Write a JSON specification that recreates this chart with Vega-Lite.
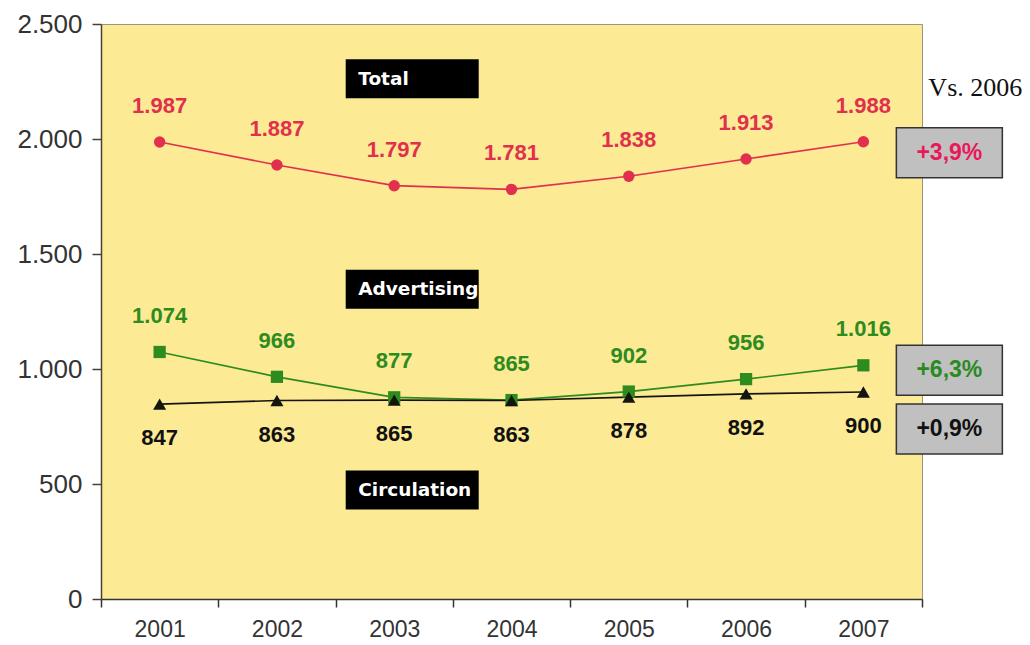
{
  "$schema": "https://vega.github.io/schema/vega-lite/v6.json",
  "width": 821,
  "height": 575,
  "autosize": "none",
  "padding": {"left": 101, "top": 24, "right": 108, "bottom": 46},
  "background": "white",
  "config": {
    "locale": {"number": {"decimal": ",", "thousands": ".", "grouping": [3], "currency": ["", " €"]}},
    "view": {"fill": "#FCEA94", "stroke": "#9C957A", "strokeWidth": 1},
    "font": "Liberation Sans"
  },
  "datasets": {
    "revenue": [
      {"year": "2001", "series": "Total", "value": 1987},
      {"year": "2002", "series": "Total", "value": 1887},
      {"year": "2003", "series": "Total", "value": 1797},
      {"year": "2004", "series": "Total", "value": 1781},
      {"year": "2005", "series": "Total", "value": 1838},
      {"year": "2006", "series": "Total", "value": 1913},
      {"year": "2007", "series": "Total", "value": 1988},
      {"year": "2001", "series": "Advertising", "value": 1074},
      {"year": "2002", "series": "Advertising", "value": 966},
      {"year": "2003", "series": "Advertising", "value": 877},
      {"year": "2004", "series": "Advertising", "value": 865},
      {"year": "2005", "series": "Advertising", "value": 902},
      {"year": "2006", "series": "Advertising", "value": 956},
      {"year": "2007", "series": "Advertising", "value": 1016},
      {"year": "2001", "series": "Circulation", "value": 847},
      {"year": "2002", "series": "Circulation", "value": 863},
      {"year": "2003", "series": "Circulation", "value": 865},
      {"year": "2004", "series": "Circulation", "value": 863},
      {"year": "2005", "series": "Circulation", "value": 878},
      {"year": "2006", "series": "Circulation", "value": 892},
      {"year": "2007", "series": "Circulation", "value": 900}
    ],
    "vs2006": [
      {"series": "Total", "change": "+3,9%"},
      {"series": "Advertising", "change": "+6,3%"},
      {"series": "Circulation", "change": "+0,9%"}
    ]
  },
  "encoding": {
    "x": {
      "field": "year",
      "type": "ordinal",
      "scale": {"type": "band", "domain": ["2001", "2002", "2003", "2004", "2005", "2006", "2007"], "paddingInner": 0, "paddingOuter": 0},
      "axis": {
        "title": null,
        "labelAngle": 0,
        "tickBand": "extent",
        "labelFontSize": 23,
        "labelColor": "#333333",
        "labelPadding": 11,
        "tickSize": 8,
        "tickColor": "#333333",
        "tickWidth": 1.5,
        "domainColor": "#333333",
        "domainWidth": 1.5
      }
    },
    "y": {
      "field": "value",
      "type": "quantitative",
      "scale": {"domain": [0, 2500], "nice": false},
      "axis": {
        "title": null,
        "grid": false,
        "values": [0, 500, 1000, 1500, 2000, 2500],
        "format": ",.0f",
        "labelFontSize": 26,
        "labelColor": "#333333",
        "labelPadding": 10,
        "tickSize": 9,
        "tickColor": "#4B4030",
        "tickWidth": 1.5,
        "domainColor": "#4B4030",
        "domainWidth": 1.5
      }
    }
  },
  "layer": [
    {
      "data": {"name": "revenue"},
      "mark": {"type": "line", "strokeWidth": 1.7},
      "encoding": {
        "color": {
          "field": "series",
          "type": "nominal",
          "scale": {"domain": ["Total", "Advertising", "Circulation"], "range": ["#E0304E", "#2E8B1E", "#151510"]},
          "legend": null
        }
      }
    },
    {
      "data": {"name": "revenue"},
      "mark": {"type": "point", "filled": true, "opacity": 1},
      "encoding": {
        "color": {
          "field": "series",
          "type": "nominal",
          "scale": {"domain": ["Total", "Advertising", "Circulation"], "range": ["#EE0C5A", "#0A850A", "#000000"]},
          "legend": null
        },
        "shape": {
          "field": "series",
          "type": "nominal",
          "scale": {"domain": ["Total", "Advertising", "Circulation"], "range": ["circle", "square", "triangle-up"]},
          "legend": null
        },
        "size": {
          "field": "series",
          "type": "nominal",
          "scale": {"domain": ["Total", "Advertising", "Circulation"], "range": [130, 170, 190]},
          "legend": null
        }
      }
    },
    {
      "data": {"name": "revenue"},
      "transform": [{"filter": "datum.series !== 'Circulation'"}],
      "mark": {"type": "text", "fontWeight": "bold", "fontSize": 22, "dy": -36, "baseline": "middle"},
      "encoding": {
        "text": {"field": "value", "type": "quantitative", "format": ","},
        "color": {
          "field": "series",
          "type": "nominal",
          "scale": {"domain": ["Total", "Advertising"], "range": ["#EE1C5A", "#2E8B22"]},
          "legend": null
        }
      }
    },
    {
      "data": {"name": "revenue"},
      "transform": [{"filter": "datum.series === 'Circulation'"}],
      "mark": {"type": "text", "fontWeight": "bold", "fontSize": 22, "dy": 34, "baseline": "middle", "color": "#111111"},
      "encoding": {
        "text": {"field": "value", "type": "quantitative", "format": ","}
      }
    },
    {
      "data": {"name": "revenue"},
      "transform": [{"filter": "datum.series === 'Total' && datum.year === '2007'"}],
      "mark": {"type": "text", "font": "Liberation Serif", "fontSize": 26, "align": "left", "baseline": "middle", "dx": 65, "dy": -54, "color": "#111111"},
      "encoding": {"text": {"value": "Vs. 2006"}}
    },
    {
      "data": {"name": "revenue"},
      "transform": [
        {"filter": "datum.series === 'Total' && datum.year === '2007'"},
        {"lookup": "series", "from": {"data": {"name": "vs2006"}, "key": "series", "fields": ["change"]}}
      ],
      "layer": [
        {"mark": {"type": "point", "shape": "M-1,-0.472H1V0.472H-1Z", "size": 11236, "filled": true, "fill": "#C0C0C0", "stroke": "#333333", "strokeWidth": 1.5, "opacity": 1, "xOffset": 86, "yOffset": 11}},
        {"mark": {"type": "text", "fontWeight": "bold", "fontSize": 23, "baseline": "middle", "dx": 86, "dy": 11, "color": "#E8185A"}, "encoding": {"text": {"field": "change", "type": "nominal"}}}
      ]
    },
    {
      "data": {"name": "revenue"},
      "transform": [
        {"filter": "datum.series === 'Advertising' && datum.year === '2007'"},
        {"lookup": "series", "from": {"data": {"name": "vs2006"}, "key": "series", "fields": ["change"]}}
      ],
      "layer": [
        {"mark": {"type": "point", "shape": "M-1,-0.472H1V0.472H-1Z", "size": 11236, "filled": true, "fill": "#C0C0C0", "stroke": "#333333", "strokeWidth": 1.5, "opacity": 1, "xOffset": 86, "yOffset": 5}},
        {"mark": {"type": "text", "fontWeight": "bold", "fontSize": 23, "baseline": "middle", "dx": 86, "dy": 5, "color": "#2A8A22"}, "encoding": {"text": {"field": "change", "type": "nominal"}}}
      ]
    },
    {
      "data": {"name": "revenue"},
      "transform": [
        {"filter": "datum.series === 'Circulation' && datum.year === '2007'"},
        {"lookup": "series", "from": {"data": {"name": "vs2006"}, "key": "series", "fields": ["change"]}}
      ],
      "layer": [
        {"mark": {"type": "point", "shape": "M-1,-0.472H1V0.472H-1Z", "size": 11236, "filled": true, "fill": "#C0C0C0", "stroke": "#333333", "strokeWidth": 1.5, "opacity": 1, "xOffset": 86, "yOffset": 37}},
        {"mark": {"type": "text", "fontWeight": "bold", "fontSize": 23, "baseline": "middle", "dx": 86, "dy": 37, "color": "#111111"}, "encoding": {"text": {"field": "change", "type": "nominal"}}}
      ]
    },
    {
      "data": {"name": "revenue"},
      "transform": [{"filter": "datum.series === 'Total' && datum.year === '2003'"}],
      "layer": [
        {"mark": {"type": "point", "shape": "M-1,-0.293H1V0.293H-1Z", "size": 17689, "filled": true, "fill": "#000000", "strokeWidth": 0, "opacity": 1, "xOffset": 18, "yOffset": -107}},
        {"mark": {"type": "text", "font": "DejaVu Sans", "fontWeight": "bold", "fontSize": 18.5, "align": "left", "baseline": "middle", "dx": -36, "dy": -107, "color": "#FFFFFF"}, "encoding": {"text": {"field": "series", "type": "nominal"}}}
      ]
    },
    {
      "data": {"name": "revenue"},
      "transform": [{"filter": "datum.series === 'Advertising' && datum.year === '2003'"}],
      "layer": [
        {"mark": {"type": "point", "shape": "M-1,-0.293H1V0.293H-1Z", "size": 17689, "filled": true, "fill": "#000000", "strokeWidth": 0, "opacity": 1, "xOffset": 18, "yOffset": -108}},
        {"mark": {"type": "text", "font": "DejaVu Sans", "fontWeight": "bold", "fontSize": 18.5, "align": "left", "baseline": "middle", "dx": -36, "dy": -108, "color": "#FFFFFF"}, "encoding": {"text": {"field": "series", "type": "nominal"}}}
      ]
    },
    {
      "data": {"name": "revenue"},
      "transform": [{"filter": "datum.series === 'Circulation' && datum.year === '2003'"}],
      "layer": [
        {"mark": {"type": "point", "shape": "M-1,-0.293H1V0.293H-1Z", "size": 17689, "filled": true, "fill": "#000000", "strokeWidth": 0, "opacity": 1, "xOffset": 18, "yOffset": 90}},
        {"mark": {"type": "text", "font": "DejaVu Sans", "fontWeight": "bold", "fontSize": 18.5, "align": "left", "baseline": "middle", "dx": -36, "dy": 90, "color": "#FFFFFF"}, "encoding": {"text": {"field": "series", "type": "nominal"}}}
      ]
    }
  ]
}
